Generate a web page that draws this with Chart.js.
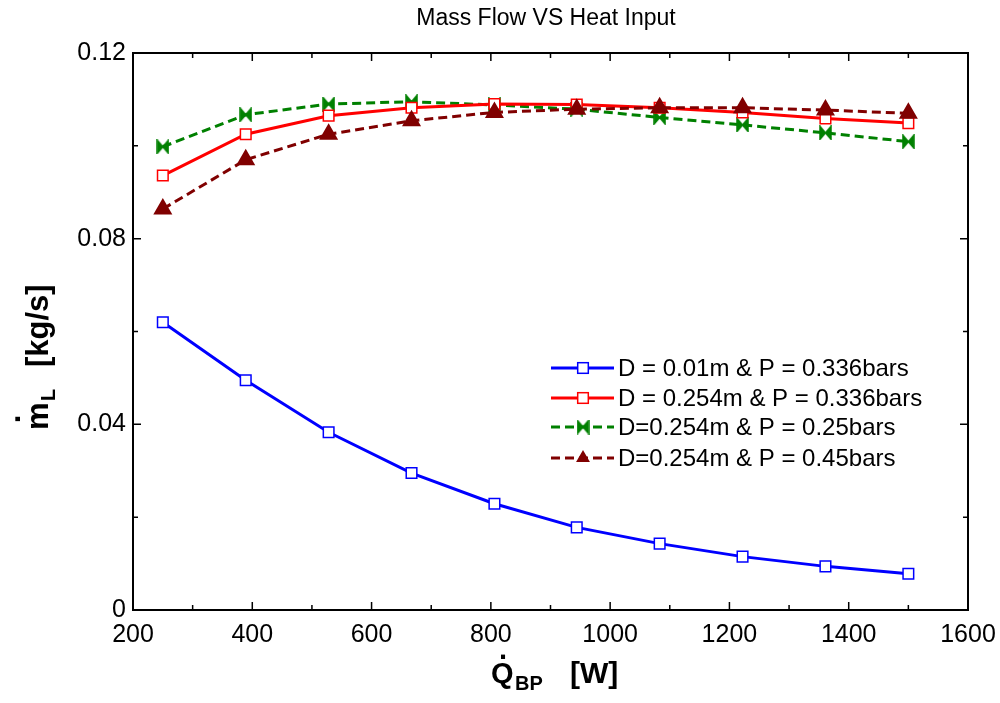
<!DOCTYPE html>
<html lang="en">
<head>
  <meta charset="UTF-8" />
  <title>Mass Flow VS Heat Input</title>
  <script src="https://cdn.jsdelivr.net/npm/chart.js"></script>
  <style>
    body { margin: 0; background: #fff; }
    #wrap { width: 1000px; height: 703px; }
  </style>
</head>
<body>
  <div id="wrap"><canvas id="flowChart"></canvas></div>

  <script>
    // heat input at the bottom plate, W
    const heatInput = [250, 389, 528, 667, 806, 944, 1083, 1222, 1361, 1500];

    // liquid mass flow, kg/s
    const flowD001P336 = [0.0620, 0.0495, 0.0383, 0.0295, 0.0229, 0.0178, 0.0143, 0.0115, 0.0094, 0.0078];
    const flowD254P336 = [0.0936, 0.1025, 0.1065, 0.1082, 0.1090, 0.1089, 0.1082, 0.1072, 0.1059, 0.1049];
    const flowD254P25  = [0.0998, 0.1067, 0.1090, 0.1095, 0.1088, 0.1079, 0.1061, 0.1045, 0.1028, 0.1009];
    const flowD254P45  = [0.0864, 0.0970, 0.1025, 0.1054, 0.1072, 0.1079, 0.1082, 0.1082, 0.1077, 0.1070];

    const seriesLabels = [
      'D = 0.01m & P = 0.336bars',
      'D = 0.254m & P = 0.336bars',
      'D=0.254m & P = 0.25bars',
      'D=0.254m & P = 0.45bars'
    ];

    const xMajor = [200, 400, 600, 800, 1000, 1200, 1400, 1600];
    const xMinor = [300, 500, 700, 900, 1100, 1300, 1500];
    const yMajor = [0, 0.04, 0.08, 0.12];
    const yMinor = [0.02, 0.06, 0.10];

    const FONT = '"Liberation Sans", Arial, sans-serif';

    // bow-tie marker like the one in the original figure
    function bowTie(color) {
      const c = document.createElement('canvas');
      c.width = 13; c.height = 15;
      const g = c.getContext('2d');
      g.fillStyle = color;
      g.strokeStyle = color;
      g.lineWidth = 1.5;
      g.beginPath();
      g.moveTo(1, 1); g.lineTo(6.5, 7.5); g.lineTo(1, 14); g.closePath();
      g.moveTo(12, 1); g.lineTo(6.5, 7.5); g.lineTo(12, 14); g.closePath();
      g.fill(); g.stroke();
      return c;
    }
    const greenTie = bowTie('#008000');

    const toPoints = arr => arr.map((v, i) => ({ x: heatInput[i], y: v }));

    const datasets = [
      { label: seriesLabels[0], data: toPoints(flowD001P336), borderColor: '#0000ff', backgroundColor: '#ffffff',
        borderWidth: 3, pointStyle: 'rect', pointRadius: 7.5, pointBorderWidth: 1.5, order: 3 },
      { label: seriesLabels[1], data: toPoints(flowD254P336), borderColor: '#ff0000', backgroundColor: '#ffffff',
        borderWidth: 3, pointStyle: 'rect', pointRadius: 7.5, pointBorderWidth: 1.5, order: 1 },
      { label: seriesLabels[2], data: toPoints(flowD254P25), borderColor: '#008000', backgroundColor: '#008000',
        borderWidth: 3, borderDash: [9, 5], pointStyle: greenTie, pointRadius: 7, order: 2 },
      { label: seriesLabels[3], data: toPoints(flowD254P45), borderColor: '#800000', backgroundColor: '#800000',
        borderWidth: 3, borderDash: [9, 5], pointStyle: 'triangle', pointRadius: 8, order: 0 }
    ];

    function drawMarker(ctx, ds, x, y) {
      ctx.save();
      if (ds.pointStyle instanceof HTMLCanvasElement) {
        ctx.drawImage(ds.pointStyle, x - ds.pointStyle.width / 2, y - ds.pointStyle.height / 2);
      } else if (ds.pointStyle === 'rect') {
        const s = Math.SQRT1_2 * ds.pointRadius;
        ctx.fillStyle = ds.backgroundColor;
        ctx.strokeStyle = ds.borderColor;
        ctx.lineWidth = ds.pointBorderWidth;
        ctx.fillRect(x - s, y - s, 2 * s, 2 * s);
        ctx.strokeRect(x - s, y - s, 2 * s, 2 * s);
      } else if (ds.pointStyle === 'triangle') {
        const r = ds.pointRadius;
        ctx.fillStyle = ds.backgroundColor;
        ctx.beginPath();
        for (let k = 0; k < 3; k++) {
          const a = k * 2 * Math.PI / 3;
          ctx.lineTo(x + Math.sin(a) * r, y - Math.cos(a) * r);
        }
        ctx.closePath();
        ctx.fill();
      }
      ctx.restore();
    }

    const framePlugin = {
      id: 'frame',
      afterDatasetsDraw(chart) {
        const { ctx, chartArea: a, scales: { x, y } } = chart;
        ctx.save();
        ctx.strokeStyle = '#000';
        ctx.lineWidth = 1.5;
        ctx.beginPath();
        const xt = (list, len) => list.forEach(v => {
          const px = x.getPixelForValue(v);
          ctx.moveTo(px, a.bottom); ctx.lineTo(px, a.bottom - len);
          ctx.moveTo(px, a.top); ctx.lineTo(px, a.top + len);
        });
        const yt = (list, len) => list.forEach(v => {
          const py = y.getPixelForValue(v);
          ctx.moveTo(a.left, py); ctx.lineTo(a.left + len, py);
          ctx.moveTo(a.right, py); ctx.lineTo(a.right - len, py);
        });
        xt(xMajor, 8); xt(xMinor, 5);
        yt(yMajor, 8); yt(yMinor, 5);
        ctx.stroke();
        ctx.lineWidth = 2;
        ctx.strokeRect(a.left, a.top, a.right - a.left, a.bottom - a.top);

        // legend
        const rows = [368, 398, 427, 458];
        chart.data.datasets.forEach((ds, i) => {
          const ly = rows[i];
          ctx.save();
          ctx.strokeStyle = ds.borderColor;
          ctx.lineWidth = ds.borderWidth;
          ctx.setLineDash(ds.borderDash || []);
          ctx.beginPath();
          ctx.moveTo(551, ly); ctx.lineTo(614, ly);
          ctx.stroke();
          ctx.restore();
          drawMarker(ctx, ds, 583, ly);
          ctx.fillStyle = '#000';
          ctx.font = '24px ' + FONT;
          ctx.textAlign = 'left';
          ctx.textBaseline = 'middle';
          ctx.fillText(ds.label, 618, ly + 1);
        });

        // title
        ctx.font = '23px ' + FONT;
        ctx.textAlign = 'center';
        ctx.textBaseline = 'middle';
        ctx.fillText('Mass Flow VS Heat Input', 546, 19);

        // x axis title: Q-dot with subscript BP
        ctx.textAlign = 'left';
        ctx.textBaseline = 'alphabetic';
        ctx.font = 'bold 29px ' + FONT;
        ctx.fillText('Q', 491, 683);
        ctx.textAlign = 'center';
        ctx.fillText('.', 503, 659);
        ctx.textAlign = 'left';
        ctx.font = 'bold 20px ' + FONT;
        ctx.fillText('BP', 515, 690);
        ctx.font = 'bold 30px ' + FONT;
        ctx.fillText('[W]', 570, 683);

        // y axis title: m-dot with subscript L
        ctx.save();
        ctx.translate(48, 430);
        ctx.rotate(-Math.PI / 2);
        ctx.font = 'bold 31px ' + FONT;
        ctx.fillText('m', 0, 0);
        ctx.textAlign = 'center';
        ctx.fillText('.', 11, -28);
        ctx.textAlign = 'left';
        ctx.font = 'bold 20px ' + FONT;
        ctx.fillText('L', 29, 7);
        ctx.font = 'bold 31px ' + FONT;
        ctx.fillText('[kg/s]', 63, 0);
        ctx.restore();

        ctx.restore();
      }
    };

    new Chart(document.getElementById('flowChart').getContext('2d'), {
      type: 'line',
      data: { datasets },
      options: {
        responsive: true,
        maintainAspectRatio: false,
        animation: false,
        layout: { padding: { top: 53, right: 32, left: 0, bottom: 0 } },
        plugins: { legend: { display: false }, title: { display: false }, tooltip: { enabled: false } },
        scales: {
          x: {
            type: 'linear', min: 200, max: 1600,
            grid: { display: false, drawTicks: false },
            border: { display: false },
            afterBuildTicks: s => { s.ticks = xMajor.map(v => ({ value: v })); },
            afterFit: s => { s.height = 93; s.paddingLeft = 0; s.paddingRight = 0; },
            ticks: { color: '#000', padding: 10, maxRotation: 0, font: { size: 25, family: FONT }, callback: v => String(v) }
          },
          y: {
            type: 'linear', min: 0, max: 0.12,
            grid: { display: false, drawTicks: false },
            border: { display: false },
            afterBuildTicks: s => { s.ticks = yMajor.map(v => ({ value: v })); },
            afterFit: s => { s.width = 133; s.paddingTop = 0; s.paddingBottom = 0; },
            ticks: { color: '#000', padding: 7, font: { size: 25, family: FONT }, callback: v => v === 0 ? '0' : v.toFixed(2) }
          }
        }
      },
      plugins: [framePlugin]
    });
  </script>
</body>
</html>
